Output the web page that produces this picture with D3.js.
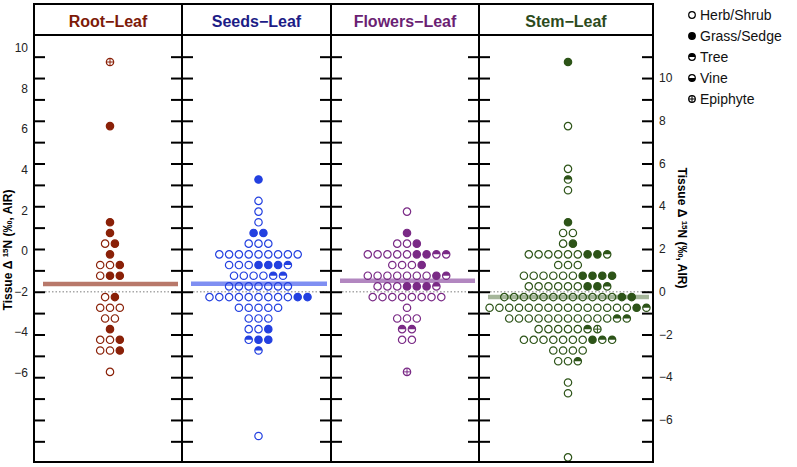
<!DOCTYPE html>
<html>
<head>
<meta charset="utf-8">
<script src="https://cdn.jsdelivr.net/npm/d3@7"></script>
<style>
  body { margin: 0; background: #fff; }
  svg { display: block; font-family: "Liberation Sans", Arial, sans-serif; }
</style>
</head>
<body>
<svg id="chart" width="797" height="467"></svg>
<script>
// panel names and colours
const panelNames = ["Root\u2212Leaf", "Seeds\u2212Leaf", "Flowers\u2212Leaf", "Stem\u2212Leaf"];
const titleColors = ["#7d1a08", "#1c1c86", "#6b1f73", "#2c4a1c"];
const pointColors = ["#8a2108", "#2340e0", "#7a2a86", "#2d5418"];
const meanColors = ["#b8786a", "#7f8ff2", "#b287c0", "#a5b69a"];
const meanValues = [0.36, 0.37, 0.52, -0.25];

// rows: [tissue delta 15N bin, symbols from left to right]
// o herb/shrub, f grass/sedge, t tree, v vine, e epiphyte
const rootRows = [
  [10.75, "e"], [7.75, "f"], [3.25, "f"], [2.75, "f"], [2.25, "of"], [1.75, "f"],
  [1.25, "oof"], [0.75, "off"], [-0.25, "of"], [-0.75, "ooo"], [-1.25, "oo"],
  [-1.75, "f"], [-2.25, "oof"], [-2.75, "oof"], [-3.75, "o"]
];
const seedsRows = [
  [5.25, "f"], [4.25, "o"], [3.75, "o"], [3.25, "o"], [2.75, "ff"], [2.25, "ooo"],
  [1.75, "ooooooooo"], [1.25, "oooffft"], [0.75, "oooott"], [0.25, "ooooooo"],
  [-0.25, "oooooooooff"], [-0.75, "ooooo"], [-1.25, "ooo"], [-1.75, "oof"],
  [-2.25, "tff"], [-2.75, "t"], [-6.75, "o"]
];
const flowersRows = [
  [3.75, "o"], [2.75, "f"], [2.25, "oof"], [1.75, "ooooofftt"], [1.25, "ooof"],
  [0.75, "oooooooft"], [0.25, "oooffft"], [-0.25, "oooooooo"], [-0.75, "o"],
  [-1.25, "ooo"], [-1.75, "tt"], [-2.25, "oo"], [-3.75, "e"]
];
const stemRows = [
  [10.75, "f"], [7.75, "o"], [5.75, "o"], [5.25, "t"], [4.75, "o"], [3.25, "f"],
  [2.75, "oo"], [2.25, "of"], [1.75, "oooooofft"], [1.25, "ooo"], [0.75, "ooooooffff"],
  [0.25, "oooooofft"], [-0.25, "ooooooooooooff"], [-0.75, "oooooooooooooooft"],
  [-1.25, "ooooooooooott"], [-1.75, "ooooote"], [-2.25, "oooooooftt"], [-2.75, "oooo"],
  [-3.25, "oot"], [-4.25, "o"], [-4.75, "o"], [-7.75, "o"]
];
const panelRows = [rootRows, seedsRows, flowersRows, stemRows];

const rightTicks = [10, 8, 6, 4, 2, 0, -2, -4, -6];
const legendLabels = ["Herb/Shrub", "Grass/Sedge", "Tree", "Vine", "Epiphyte"];
const legendTypes = ["o", "f", "t", "v", "e"];

// layout
const panelEdges = [34, 182, 331, 479, 653];
const frameTop = 4, headerBottom = 35, frameBottom = 462;
const dotR = 3.7, dotStep = 9.8;

const svg = d3.select("#chart");

const y = d3.scaleLinear().domain([-8, 12]).range([462.7, 35.3]);
// the left labels sit on their own (offset) scale in the source figure
const yLeft = d3.scaleLinear().domain([0, 10]).range([251, 48]);

function drawSymbol(g, type, color, r) {
  g.append("circle")
    .attr("r", r)
    .attr("fill", type === "f" ? color : "none")
    .attr("stroke", color)
    .attr("stroke-width", 1.2);
  if (type === "t") {
    g.append("path").attr("d", `M${-r},0A${r},${r} 0 0 1 ${r},0Z`).attr("fill", color);
  } else if (type === "v") {
    g.append("path").attr("d", `M${-r},0A${r},${r} 0 0 0 ${r},0Z`).attr("fill", color);
  } else if (type === "e") {
    g.append("path").attr("d", `M${-r},0H${r}M0,${-r}V${r}`)
      .attr("stroke", color).attr("stroke-width", 1);
  }
}

panelNames.forEach((name, p) => {
  const x0 = panelEdges[p], x1 = panelEdges[p + 1];
  const cx = (x0 + x1) / 2 + 2;
  const panel = svg.append("g");

  // zero reference
  panel.append("line")
    .attr("x1", x0 + 11).attr("x2", x1 - 4)
    .attr("y1", y(0)).attr("y2", y(0))
    .attr("stroke", "#a8a8a8").attr("stroke-width", 1.5)
    .attr("stroke-dasharray", "1.5,2");

  // mean line
  panel.append("line")
    .attr("x1", x0 + 9).attr("x2", x1 - 4)
    .attr("y1", y(meanValues[p])).attr("y2", y(meanValues[p]))
    .attr("stroke", meanColors[p]).attr("stroke-width", 4.5);

  // points
  panelRows[p].forEach(([v, syms]) => {
    const n = syms.length;
    syms.split("").forEach((s, i) => {
      const g = panel.append("g")
        .attr("transform", `translate(${cx + (i - (n - 1) / 2) * dotStep},${y(v)})`);
      drawSymbol(g, s, pointColors[p], dotR);
    });
  });

  // header title
  svg.append("text")
    .attr("x", (x0 + x1) / 2).attr("y", 26.5)
    .attr("text-anchor", "middle")
    .attr("font-size", "16px").attr("font-weight", "bold")
    .attr("fill", titleColors[p])
    .text(name);
});

// ticks on every panel edge
const tickVals = d3.range(-7, 12);
panelEdges.forEach((ex, i) => {
  if (i < panelEdges.length - 1) {
    const ax = svg.append("g").attr("transform", `translate(${ex},0)`)
      .call(d3.axisRight(y).tickValues(tickVals).tickSize(11).tickFormat(""));
    ax.select(".domain").remove();
    ax.selectAll("line").attr("stroke", "#000").attr("stroke-width", 2);
  }
  if (i > 0) {
    const ax = svg.append("g").attr("transform", `translate(${ex},0)`)
      .call(d3.axisLeft(y).tickValues(tickVals).tickSize(11).tickFormat(""));
    ax.select(".domain").remove();
    ax.selectAll("line").attr("stroke", "#000").attr("stroke-width", 2);
  }
});

// frame
svg.append("rect")
  .attr("x", panelEdges[0]).attr("y", frameTop)
  .attr("width", panelEdges[4] - panelEdges[0]).attr("height", frameBottom - frameTop)
  .attr("fill", "none").attr("stroke", "#000").attr("stroke-width", 2);
svg.append("line")
  .attr("x1", panelEdges[0]).attr("x2", panelEdges[4])
  .attr("y1", headerBottom).attr("y2", headerBottom)
  .attr("stroke", "#000").attr("stroke-width", 2);
panelEdges.slice(1, 4).forEach(ex => {
  svg.append("line")
    .attr("x1", ex).attr("x2", ex).attr("y1", frameTop).attr("y2", frameBottom)
    .attr("stroke", "#000").attr("stroke-width", 2);
});

// tick labels
const fmt = d3.format("d");
svg.append("g").selectAll("text").data(rightTicks).join("text")
  .attr("x", 28).attr("y", d => yLeft(d)).attr("dy", "0.35em")
  .attr("text-anchor", "end").attr("font-size", "12px").attr("fill", "#222")
  .text(d => fmt(d));
svg.append("g").selectAll("text").data(rightTicks).join("text")
  .attr("x", 659).attr("y", d => y(d)).attr("dy", "0.35em")
  .attr("font-size", "12px").attr("fill", "#222")
  .text(d => fmt(d));

// axis titles
function axisTitle(x, yc, angle) {
  const t = svg.append("text")
    .attr("transform", `translate(${x},${yc}) rotate(${angle})`)
    .attr("text-anchor", "middle")
    .attr("font-size", "12px").attr("font-weight", "bold");
  t.append("tspan").text("Tissue \u0394 ");
  t.append("tspan").attr("font-size", "8px").attr("dy", "-0.45em").text("15");
  t.append("tspan").attr("dy", "0.3em").text("N (\u2030, AIR)");
}
axisTitle(12, 250, -90);
axisTitle(678, 228, 90);

// legend
const legend = svg.append("g");
legendLabels.forEach((lab, i) => {
  const ly = 15 + i * 21;
  const g = legend.append("g").attr("transform", `translate(692,${ly})`);
  drawSymbol(g, legendTypes[i], "#000", 3.3);
  legend.append("text")
    .attr("x", 700).attr("y", ly).attr("dy", "0.36em")
    .attr("font-size", "14px").attr("fill", "#111")
    .text(lab);
});
</script>
</body>
</html>
